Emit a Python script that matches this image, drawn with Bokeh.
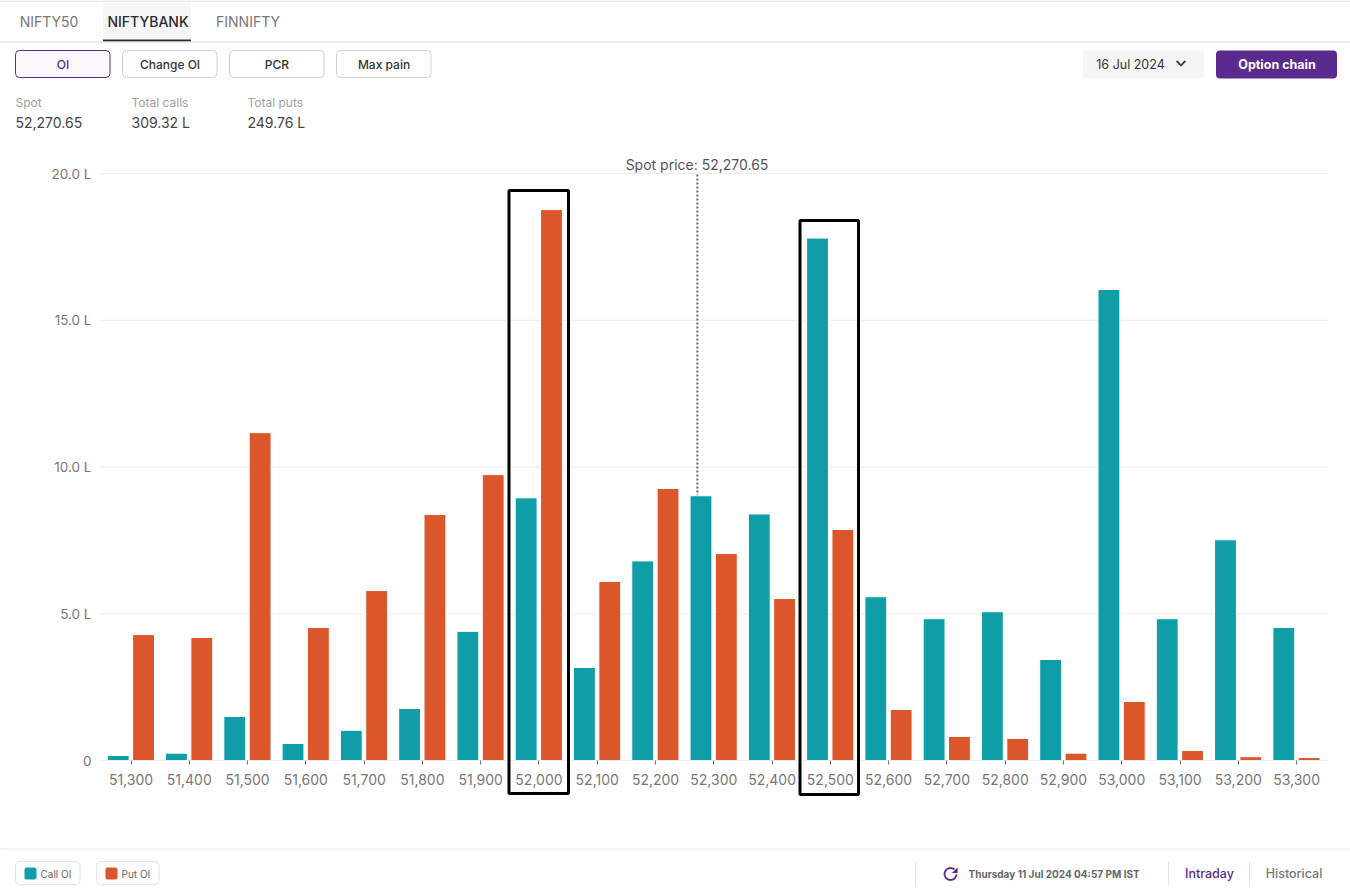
import numpy as np
from bokeh.embed import file_html
from bokeh.resources import INLINE
from bokeh.plotting import figure
from bokeh.models import (BoxAnnotation, Label, PolyAnnotation, FixedTicker, Range1d,
                          NumeralTickFormatter, CustomJSTickFormatter)

strikes = [51300, 51400, 51500, 51600, 51700, 51800, 51900, 52000, 52100, 52200, 52300,
           52400, 52500, 52600, 52700, 52800, 52900, 53000, 53100, 53200, 53300]
call_oi = [0.17, 0.25, 1.50, 0.58, 1.03, 1.77, 4.40, 8.95, 3.17, 6.80, 9.02,
           8.40, 17.80, 5.58, 4.83, 5.07, 3.44, 16.05, 4.83, 7.52, 4.53]
put_oi = [4.29, 4.19, 11.17, 4.53, 5.79, 8.38, 9.74, 18.77, 6.10, 9.27, 7.05,
          5.52, 7.87, 1.74, 0.82, 0.75, 0.25, 2.01, 0.34, 0.13, 0.10]
spot = 52270.65
y_ticks = [0, 5, 10, 15, 20]

W, H = 1350, 889
TEAL, ORANGE, PURPLE = "#0f9ea8", "#dc562b", "#5b2a8f"
DX, DY = -0.5, -1  # canvas offset of the furniture
MED = "Inter Medium"

FL, FR, FT, FB = 100, 1328, 173, 760  # chart area in page pixels
PX = 0.5828  # pixels per strike point
PY = (FB - FT) / 20  # pixels per lakh
x_at = lambda px: 51300 + (px - 130.5) / PX
x_left, x_right = x_at(FL), x_at(FR)

# The frame fills the whole canvas so that the page furniture is not clipped;
# the data keep mapping through these ranges.
p = figure(width=W, height=H, output_backend="svg", toolbar_location=None,
           x_range=Range1d(x_at(0), x_at(W)),
           y_range=Range1d((FB - H) / PY, FB / PY),
           min_border_left=0, min_border_right=0, min_border_top=0, min_border_bottom=0)
p.outline_line_color = None
p.xgrid.visible = False
p.ygrid.visible = False

p.xaxis.fixed_location = 0
p.xaxis.bounds = (x_left, x_right)
p.xaxis.ticker = FixedTicker(ticks=strikes)
p.xaxis.formatter = NumeralTickFormatter(format="0,0")
p.xaxis.axis_line_color = "#eeeeee"
p.xaxis.major_tick_line_color = "#777777"
p.xaxis.major_tick_in = 0
p.xaxis.major_tick_out = 4
p.xaxis.minor_tick_line_color = None
p.xaxis.major_label_text_font = "Inter"
p.xaxis.major_label_text_font_size = "14px"
p.xaxis.major_label_text_color = "#777777"
p.xaxis.major_label_standoff = 9

p.yaxis.fixed_location = x_left
p.yaxis.ticker = FixedTicker(ticks=y_ticks)
p.yaxis.formatter = CustomJSTickFormatter(code="return tick === 0 ? '0' : tick.toFixed(1) + ' L';")
p.yaxis.axis_line_color = None
p.yaxis.major_tick_line_color = None
p.yaxis.minor_tick_line_color = None
p.yaxis.major_label_text_font = "Inter"
p.yaxis.major_label_text_font_size = "13.5px"
p.yaxis.major_label_text_color = "#777777"
p.yaxis.major_label_standoff = 3

p.segment(x0=[x_left] * 4, x1=[x_right] * 4, y0=y_ticks[1:], y1=y_ticks[1:],
          line_color="#ececec", line_width=1)
p.line([spot + 1.2, spot + 1.2], [0, 20], line_color="#666666", line_width=2, line_dash="2 2")
xs = np.array(strikes, dtype=float)
p.vbar(x=xs - 22, top=call_oi, bottom=0, width=37.5, fill_color=TEAL, line_color="white", line_width=1)
p.vbar(x=xs + 21.5, top=put_oi, bottom=0, width=37.5, fill_color=ORANGE, line_color="white", line_width=1)


def box(l, t, r, b, fill=None, line=None, lw=1, radius=0):
    p.add_layout(BoxAnnotation(left=l + DX, right=r + DX, top=t + DY, bottom=b + DY,
                               left_units="canvas", right_units="canvas",
                               top_units="canvas", bottom_units="canvas",
                               fill_color=fill, fill_alpha=1 if fill else 0,
                               line_color=line, line_width=lw, line_alpha=1 if line else 0,
                               border_radius=radius, level="annotation"))


def text(x, y, s, size=13, color="#333333", weight="normal", align="left", font="Inter"):
    p.add_layout(Label(x=x + DX, y=y + DY, x_units="canvas", y_units="canvas", text=s,
                       text_font=font, text_font_size=f"{size}px", text_color=color,
                       text_font_style=weight, text_align=align, text_baseline="middle",
                       level="annotation"))


def poly(xs_, ys_, color):
    p.add_layout(PolyAnnotation(xs=[a + DX for a in xs_], ys=[a + DY for a in ys_],
                                xs_units="canvas", ys_units="canvas", fill_color=color,
                                fill_alpha=1, line_color=color, line_width=0.5, level="annotation"))


# tabs
box(0, 1, W + 1, 2, fill="#dddddd")
box(103, 3, 191, 40, fill="#f6f5f8")
box(103, 40, 191, 42, fill="#2b2b2b")
box(0, 42, W + 1, 43, fill="#dddddd")
text(49, 22, "NIFTY50", 14, "#777777", align="center")
text(148, 22, "NIFTYBANK", 14, "#2b2b2b", "normal", align="center", font=MED)
text(248, 22, "FINNIFTY", 14, "#777777", align="center")

# buttons
box(15.5, 51, 110, 78, fill="#fbf8fe", line=PURPLE, radius=4)
text(63, 65, "OI", 12, PURPLE, "normal", align="center", font=MED)
for l, r, s in [(122, 217, "Change OI"), (229, 324, "PCR"), (336, 431, "Max pain")]:
    box(l + .5, 51, r, 78, fill="white", line="#d0d0d0", radius=4)
    text((l + r) / 2 + .5, 65, s, 12, "#333333", "normal", align="center", font=MED)

box(1083, 51, 1204, 79, fill="#f5f5f5", radius=4)
text(1130.5, 64.5, "16 Jul 2024", 12.5, "#333333", "normal", align="center")
poly([1176, 1177.5, 1181, 1184.5, 1186, 1181], [62, 61, 65, 61, 62, 67], "#333333")
box(1216, 51, 1337, 79, fill=PURPLE, radius=4)
text(1277, 65, "Option chain", 12.5, "white", "bold", align="center")

# summary
for x, lab, val in [(15.5, "Spot", "52,270.65"), (131.5, "Total calls", "309.32 L"), (247.5, "Total puts", "249.76 L")]:
    text(x, 102.5, lab, 12, "#a0a0a0")
    text(x, 122.5, val, 14, "#444444")

text(697, 165, "Spot price: 52,270.65", 14, "#555555", align="center")

# hand-drawn highlight frames
box(509, 191, 568.5, 794, line="black", lw=3)
box(800, 221, 858.5, 795, line="black", lw=3)

# footer
box(0, 849, W + 1, 850, fill="#e4e4e4")
box(15.5, 862, 80, 885, fill="white", line="#e2e2e2", radius=4)
box(24.5, 868, 36.5, 880, fill=TEAL, radius=2)
text(40.5, 874, "Call OI", 10, "#666666")
box(96.5, 862, 159, 885, fill="white", line="#e2e2e2", radius=4)
box(105.5, 868, 117.5, 880, fill=ORANGE, radius=2)
text(121.5, 874, "Put OI", 10, "#666666")

for x in (915, 1168, 1249):
    box(x, 862, x + 1, 886, fill="#e4e4e4")
# refresh icon: open ring with an arrow head
ang = np.radians(np.linspace(5, 310, 36))
cx, cy, ro, ri = 950.5, 874.5, 6.8, 5.1
rx = np.r_[cx + ro * np.cos(ang), (cx + ri * np.cos(ang))[::-1]]
ry = np.r_[cy + ro * np.sin(ang), (cy + ri * np.sin(ang))[::-1]]
poly(list(rx), list(ry), PURPLE)
poly([957.5, 957.5, 952], [868, 873.5, 873.5], PURPLE)
text(968.5, 874.5, "Thursday 11 Jul 2024 04:57 PM IST", 10, "#666666", "bold")
text(1209.5, 873.5, "Intraday", 12.5, PURPLE, "normal", align="center", font=MED)
text(1294, 873.5, "Historical", 12.5, "#777777", "normal", align="center", font=MED)

open("out.html", "w").write(file_html(p, INLINE))
